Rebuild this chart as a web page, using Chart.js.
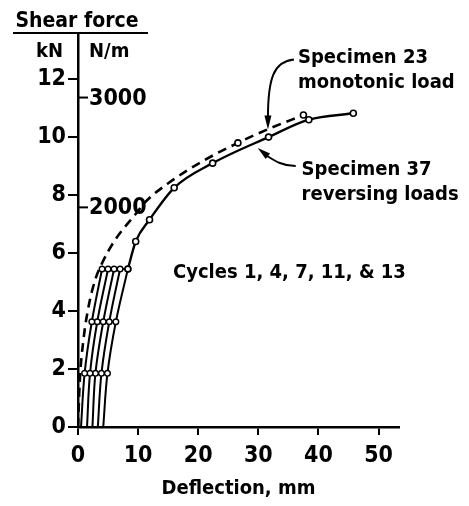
<!DOCTYPE html>
<html>
<head>
<meta charset="utf-8">
<script src="https://cdn.jsdelivr.net/npm/chart.js@4.4.1/dist/chart.umd.min.js"></script>
<style>
  body { margin: 0; background: #fff; }
  canvas { display: block; }
</style>
</head>
<body>
<canvas id="myChart" width="469" height="506"></canvas>
<script>
// tick labels
const xTicks = [0, 10, 20, 30, 40, 50];
const kNTicks = [0, 2, 4, 6, 8, 10, 12];
const nmTicks = [2000, 3000];
const nmPerKN = 264;

// Specimen 37, reversing loads (solid envelope)
const spec37Defl = [8.3, 9.6, 11.9, 16.0, 22.4, 31.7, 38.4, 45.8];
const spec37Load = [5.45, 6.4, 7.15, 8.25, 9.1, 10.0, 10.6, 10.82];

// Specimen 23, monotonic load (dashed)
const spec23Defl = [0, 0.3, 0.9, 1.8, 2.9, 4.0, 6.0, 9.8, 11.2, 15.3, 21.0, 26.6, 31.7, 37.5];
const spec23Load = [0, 1.6, 3.0, 4.2, 5.1, 5.65, 6.4, 7.4, 7.76, 8.45, 9.2, 9.8, 10.28, 10.76];
const spec23Marked = [26.6, 37.5];

// cycles 1, 4, 7, 11, 13 (loading branches)
const cycleNames = ['1', '4', '7', '11', '13'];
const cycleLoads = [0, 1.85, 3.63, 5.45];
const cycleDefl = [
  [0.5, 1.1, 2.3, 4.0],
  [1.5, 2.0, 3.2, 5.0],
  [2.4, 2.9, 4.2, 6.0],
  [3.3, 3.9, 5.2, 7.0],
  [4.2, 4.9, 6.3, 8.3]
];

const black = '#000';
const labelFont = "'DejaVu Sans Condensed', 'DejaVu Sans', sans-serif";

function pts(xs, ys) {
  return xs.map((v, i) => ({ x: v, y: ys[i] }));
}

let datasets = [];

cycleDefl.forEach((row, i) => {
  datasets.push({
    label: 'Cycle ' + cycleNames[i],
    data: pts(row, cycleLoads),
    borderColor: black,
    borderWidth: 2,
    tension: 0.35,
    pointRadius: cycleLoads.map(l => l > 0 ? 2.8 : 0),
    pointBackgroundColor: '#fff',
    pointBorderColor: black,
    pointBorderWidth: 1.4
  });
});

// rows joining the cycle markers at each load step
cycleLoads.slice(1).forEach((load, j) => {
  const xs = cycleDefl.map(r => r[j + 1]);
  datasets.push({
    label: 'step ' + load,
    data: [{ x: Math.min(...xs), y: load }, { x: Math.max(...xs), y: load }],
    borderColor: black,
    borderWidth: 1.8,
    pointRadius: 0
  });
});

datasets.push({
  label: 'Specimen 23 monotonic load',
  data: pts(spec23Defl, spec23Load),
  borderColor: black,
  borderWidth: 2.6,
  borderDash: [9, 6],
  cubicInterpolationMode: 'monotone',
  pointRadius: spec23Defl.map(d => spec23Marked.includes(d) ? 3 : 0),
  pointBackgroundColor: '#fff',
  pointBorderColor: black,
  pointBorderWidth: 1.6
});

datasets.push({
  label: 'Specimen 37 reversing loads',
  data: pts(spec37Defl, spec37Load),
  borderColor: black,
  borderWidth: 2.4,
  cubicInterpolationMode: 'monotone',
  pointRadius: 3,
  pointBackgroundColor: '#fff',
  pointBorderColor: black,
  pointBorderWidth: 1.6
});

function arrowHead(ctx, tx, ty, ang, len, half) {
  const bx = tx - Math.cos(ang) * len;
  const by = ty - Math.sin(ang) * len;
  const nx = -Math.sin(ang) * half;
  const ny = Math.cos(ang) * half;
  ctx.beginPath();
  ctx.moveTo(tx, ty);
  ctx.lineTo(bx + nx, by + ny);
  ctx.lineTo(bx - nx, by - ny);
  ctx.closePath();
  ctx.fill();
}

const extras = {
  id: 'extras',
  afterDraw(chart) {
    const ctx = chart.ctx;
    const x = chart.scales.x;
    const y = chart.scales.y;
    const y2 = chart.scales.y2;
    const left = chart.chartArea.left;
    const top = chart.chartArea.top;
    ctx.save();
    ctx.fillStyle = black;
    ctx.strokeStyle = black;

    // header above the vertical axis
    ctx.font = 'bold 21px ' + labelFont;
    ctx.textAlign = 'center';
    ctx.textBaseline = 'alphabetic';
    ctx.fillText('Shear force', left - 1, top - 6);
    ctx.lineWidth = 2;
    ctx.beginPath();
    ctx.moveTo(left - 65, top);
    ctx.lineTo(left + 70, top);
    ctx.stroke();
    ctx.font = 'bold 20px ' + labelFont;
    ctx.textAlign = 'right';
    ctx.fillText('kN', left - 15, top + 24);
    ctx.textAlign = 'left';
    ctx.fillText('N/m', left + 11, top + 24);

    // N/m ticks on the right side of the axis
    ctx.font = 'bold 23px ' + labelFont;
    ctx.textBaseline = 'middle';
    ctx.lineWidth = 2;
    nmTicks.forEach(v => {
      const py = y2.getPixelForValue(v);
      ctx.beginPath();
      ctx.moveTo(left, py);
      ctx.lineTo(left + 10, py);
      ctx.stroke();
      ctx.fillText(String(v), left + 11, py + 1);
    });

    // annotations
    ctx.font = 'bold 20px ' + labelFont;
    ctx.textBaseline = 'alphabetic';
    ctx.textAlign = 'left';
    ctx.fillText('Specimen 23', x.getPixelForValue(36.6), y.getPixelForValue(12.56));
    ctx.fillText('monotonic load', x.getPixelForValue(36.6), y.getPixelForValue(11.69));
    ctx.fillText('Specimen 37', x.getPixelForValue(37.2), y.getPixelForValue(8.69));
    ctx.fillText('reversing loads', x.getPixelForValue(37.2), y.getPixelForValue(7.83));
    ctx.fillText('Cycles 1, 4, 7, 11, & 13', x.getPixelForValue(15.8), y.getPixelForValue(5.14));

    // arrow to Specimen 23
    let tx = x.getPixelForValue(31.6), ty = y.getPixelForValue(10.26);
    ctx.lineWidth = 2;
    ctx.beginPath();
    ctx.moveTo(tx + 26, ty - 70);
    ctx.bezierCurveTo(tx + 6, ty - 68, tx, ty - 52, tx, ty - 12);
    ctx.stroke();
    arrowHead(ctx, tx, ty, Math.PI / 2, 14, 3.5);

    // arrow to Specimen 37
    tx = x.getPixelForValue(29.9);
    ty = y.getPixelForValue(9.62);
    ctx.beginPath();
    ctx.moveTo(tx + 38, ty + 18);
    ctx.bezierCurveTo(tx + 24, ty + 18, tx + 16, ty + 12, tx + 8, ty + 7);
    ctx.stroke();
    arrowHead(ctx, tx, ty, Math.atan2(-8, -10), 13, 3.5);

    ctx.restore();
  }
};

const tickFont = { family: labelFont, size: 23, weight: 'bold' };

const config = {
  type: 'line',
  data: { datasets: datasets },
  options: {
    responsive: false,
    animation: false,
    layout: { padding: { top: 33, right: 70, left: 0, bottom: 0 } },
    plugins: { legend: { display: false }, tooltip: { enabled: false } },
    scales: {
      x: {
        type: 'linear',
        min: 0,
        max: 53.4,
        afterBuildTicks: s => { s.ticks = xTicks.map(v => ({ value: v })); },
        afterFit: s => { s.height = 79; },
        ticks: { color: black, font: tickFont, padding: 7, maxRotation: 0 },
        grid: { drawOnChartArea: false, tickLength: 8, color: black, lineWidth: 2 },
        border: { display: true, color: black, width: 2.5 },
        title: {
          display: true,
          text: 'Deflection, mm',
          color: black,
          font: { family: labelFont, size: 20, weight: 'bold' },
          padding: { top: 4, bottom: 5 }
        }
      },
      y: {
        type: 'linear',
        min: 0,
        max: 13.59,
        afterBuildTicks: s => { s.ticks = kNTicks.map(v => ({ value: v })); },
        afterFit: s => { s.width = 78; },
        ticks: { color: black, font: tickFont, padding: 2 },
        grid: { drawOnChartArea: false, tickLength: 10, color: black, lineWidth: 2 },
        border: { display: true, color: black, width: 2.5 }
      },
      y2: {
        type: 'linear',
        display: false,
        min: 0,
        max: 13.59 * nmPerKN
      }
    }
  },
  plugins: [extras]
};

let myChart = new Chart(document.getElementById('myChart'), config);
</script>
</body>
</html>
